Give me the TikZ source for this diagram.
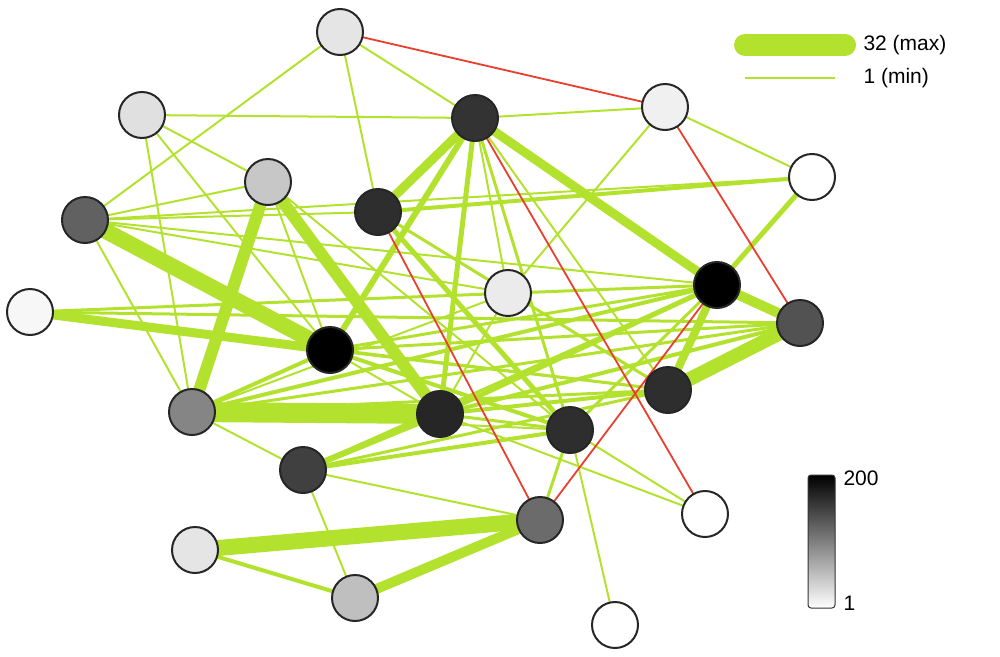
\documentclass[tikz,border=0pt]{standalone}
\usepackage{fontspec}
\setmainfont{Liberation Sans}
\begin{document}
\begin{tikzpicture}[x=1pt,y=-1pt,
  nd/.style={circle,draw=black!85,line width=2pt,minimum size=46pt,inner sep=0pt},
  ge/.style={draw=lime,line width=#1},
  re/.style={draw=redl,line width=1.8pt},
  lt/.style={anchor=west,font=\fontsize{21}{21}\selectfont}]
\definecolor{lime}{HTML}{B3E22E}
\definecolor{redl}{HTML}{E8402E}
\useasboundingbox (0,0) rectangle (1000,656);
\foreach \n/\x/\y in {A/340/32,B/142/115,C/475/118,D/665/107,E/812/177,F/268/182,G/378/212,H/85/220,I/30/312,J/508/293,K/717/285,L/800/323,M/330/350,N/668/390,O/192/412,P/440/414,Q/570/430,R/303/470,S/540/520,T/705/514,U/195/550,V/355/598,W/615/625}
  \coordinate (\n) at (\x,\y);
\foreach \a/\b/\w in {A/H/2,A/G/2,A/C/2,B/C/2,B/F/2,B/O/2,B/M/2,H/M/16,H/F/2,H/G/2,H/E/2,H/K/2,H/J/2,H/O/2,I/M/9,I/K/3,I/L/3,I/N/2,F/O/12,F/P/12,F/M/2,F/Q/2,G/C/9,G/E/4,G/Q/5,G/N/3,C/M/6,C/K/9,C/P/5,C/Q/3,C/N/2,C/J/2,C/D/2,D/E/2,D/J/2,K/E/5,K/L/10,K/N/8,K/M/3,K/P/5,K/O/4,K/Q/3,K/R/3,L/N/14,L/P/4,L/M/3,L/O/3,N/O/3,N/P/4,N/R/3,M/P/2,M/Q/4,M/N/3,M/O/4,O/P/20,O/R/2,O/Q/2,P/R/6,P/T/2,P/Q/3,Q/S/3,Q/T/2,Q/W/2,R/S/2,R/V/2,R/Q/4,U/S/16,U/V/4,V/S/10,J/P/2,J/O/2}
  \draw[ge=\w pt] (\a) -- (\b);
\draw[re] (A) -- (D);
\draw[re] (D) -- (L);
\draw[re] (C) -- (T);
\draw[re] (G) -- (S);
\draw[re] (K) -- (S);
\foreach \n/\g in {A/10,B/12,C/80,D/6,E/0,F/22,G/82,H/62,I/3,J/8,K/100,L/68,M/100,N/82,O/48,P/85,Q/82,R/75,S/58,T/0,U/10,V/25,W/0}
  \node[nd,fill=black!\g] (n\n) at (\n) {};
% legend
\coordinate (l1a) at (745,45); \coordinate (l1b) at (845,45);
\draw[lime,line width=22pt,line cap=round] (l1a) -- (l1b);
\node[lt] (t1) at (860,45) {32 (max)};
\coordinate (l2a) at (745,78); \coordinate (l2b) at (835,78);
\draw[lime,line width=2pt] (l2a) -- (l2b);
\node[lt] (t2) at (860,78) {1 (min)};
\shade[top color=black,bottom color=white,rounded corners=3pt] (808,475) rectangle (835,608);
\draw[black!80,line width=1pt,rounded corners=3pt] (808,475) rectangle (835,608);
\node[lt] (c1) at (840,478) {200};
\node[lt] (c2) at (840,603) {1};
\end{tikzpicture}
\end{document}
